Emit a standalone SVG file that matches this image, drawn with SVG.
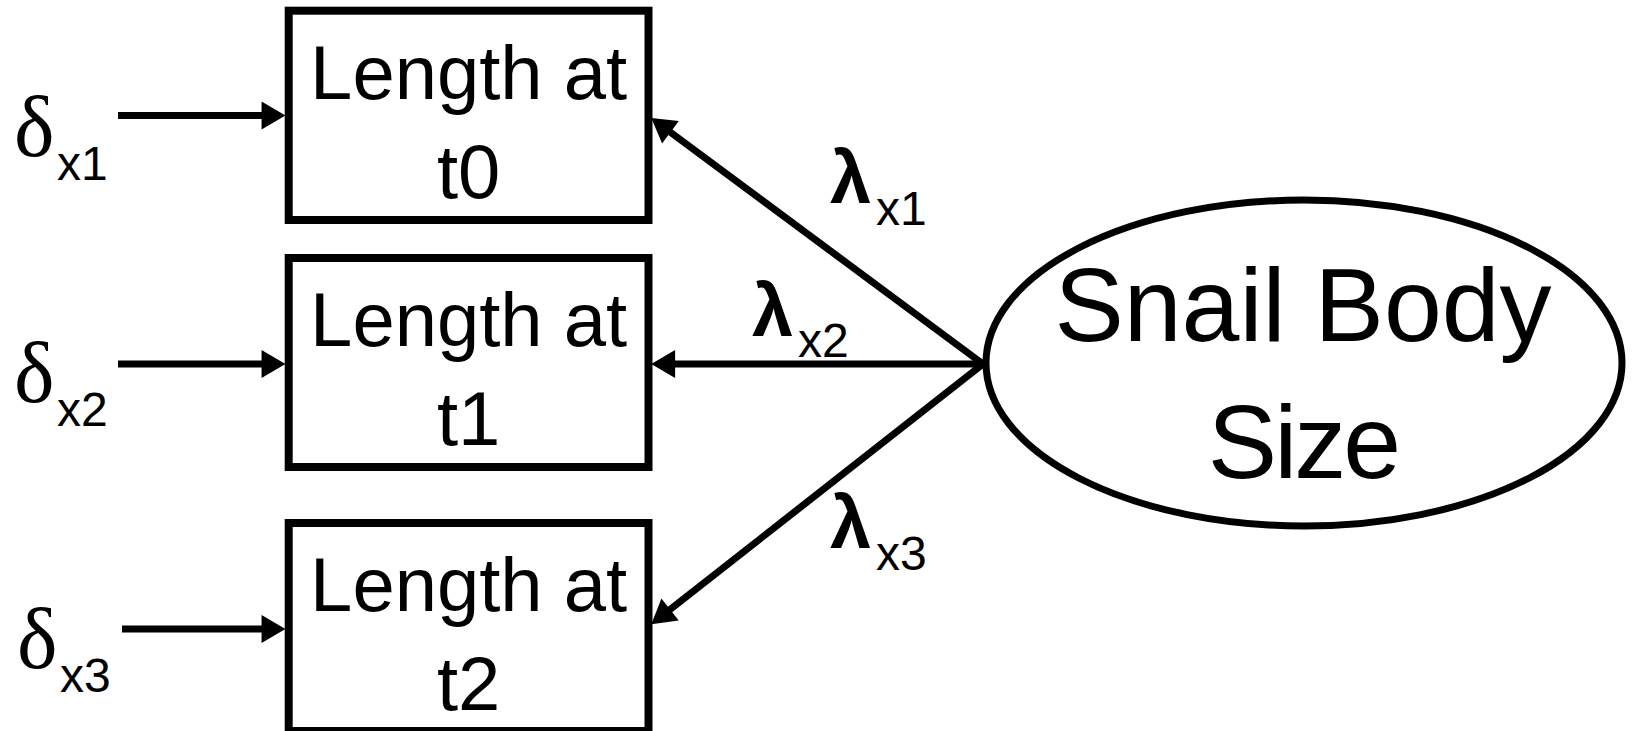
<svg xmlns="http://www.w3.org/2000/svg" width="1636" height="731" viewBox="0 0 1636 731">
<style>
.box{fill:#fff;stroke:#000;stroke-width:8}
.ell{fill:#fff;stroke:#000;stroke-width:7}
.lbl{font-family:"Liberation Sans",Arial,sans-serif;font-size:76px;fill:#000;text-anchor:middle}
.big{font-family:"Liberation Sans",Arial,sans-serif;font-size:104px;fill:#000;text-anchor:middle}
.dl{font-family:"Liberation Serif","Times New Roman",serif;font-size:86px;fill:#000}
.lam{font-family:"Liberation Sans",Arial,sans-serif;font-size:74px;font-weight:bold;fill:#000}
.sub{font-family:"Liberation Sans",Arial,sans-serif;font-size:48px;fill:#000}
.conn{stroke:#000;stroke-width:7;fill:none;marker-end:url(#ah)}
</style>
<defs>
<marker id="ah" markerUnits="userSpaceOnUse" markerWidth="25" markerHeight="28" viewBox="0 0 23 27" refX="11" refY="13.5" orient="auto">
<path d="M0,0 L23,13.5 L0,27 z" fill="#000"/>
</marker>
</defs>
<rect width="1636" height="731" fill="#fff"/>
<g id="connectors">
<line class="conn" x1="118" y1="115.5" x2="273" y2="115.5"/>
<line class="conn" x1="118" y1="364" x2="273" y2="364"/>
<line class="conn" x1="122" y1="629" x2="273" y2="629"/>
<line class="conn" x1="983" y1="364" x2="661.3" y2="125.5"/>
<line class="conn" x1="983" y1="364" x2="663.7" y2="364"/>
<line class="conn" x1="983" y1="364" x2="661.1" y2="616.6"/>
</g>
<g id="box1">
<rect class="box" x="288.7" y="10.7" width="359.8" height="209.3"/>
<text class="lbl" x="468.6" y="99">Length at</text>
<text class="lbl" x="468.6" y="198">t0</text>
</g>
<g id="box2">
<rect class="box" x="288.7" y="258" width="359.8" height="209"/>
<text class="lbl" x="468.6" y="346">Length at</text>
<text class="lbl" x="468.6" y="445">t1</text>
</g>
<g id="box3">
<rect class="box" x="288.7" y="523" width="359.8" height="208"/>
<text class="lbl" x="468.6" y="611">Length at</text>
<text class="lbl" x="468.6" y="710">t2</text>
</g>
<g id="latent">
<ellipse class="ell" cx="1304" cy="363" rx="318" ry="163"/>
<text class="big" x="1303" y="341">Snail Body</text>
<text class="big" x="1303" y="478" letter-spacing="-3">Size</text>
</g>
<g id="delta1"><text x="14" y="156"><tspan class="dl">δ</tspan><tspan class="sub" x="57" y="180">x1</tspan></text></g>
<g id="delta2"><text x="14" y="402"><tspan class="dl">δ</tspan><tspan class="sub" x="57" y="426">x2</tspan></text></g>
<g id="delta3"><text x="17" y="668"><tspan class="dl">δ</tspan><tspan class="sub" x="60" y="692">x3</tspan></text></g>
<g id="lambda1"><text x="830" y="203"><tspan class="lam">λ</tspan><tspan class="sub" x="876" y="225">x1</tspan></text></g>
<g id="lambda2"><text x="752" y="336"><tspan class="lam">λ</tspan><tspan class="sub" x="798" y="357">x2</tspan></text></g>
<g id="lambda3"><text x="830" y="548"><tspan class="lam">λ</tspan><tspan class="sub" x="876" y="570">x3</tspan></text></g>
</svg>
